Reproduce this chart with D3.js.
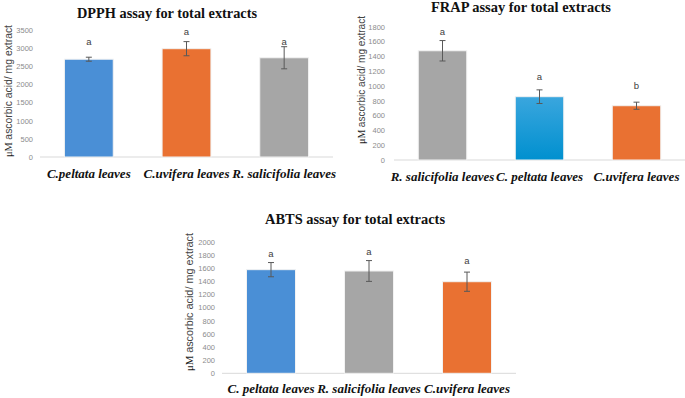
<!DOCTYPE html>
<html>
<head>
<meta charset="utf-8">
<script src="https://cdn.jsdelivr.net/npm/d3@7"></script>
<style>
  body { margin: 0; background: #fff; }
  svg { display: block; }
</style>
</head>
<body>
<div id="chart"></div>
<script>
const width = 685;
const height = 398;

// DPPH
const dpphCats = ["C.peltata leaves", "C.uvifera leaves", "R. salicifolia leaves"];
const dpphVals = [2695, 2985, 2735];
const dpphErr = [55, 195, 305];
const dpphSig = ["a", "a", "a"];
const dpphSigAt = [3090, 3360, 3090];
const dpphColors = ["blue", "orange", "gray"];
const dpphTicks = [0, 500, 1000, 1500, 2000, 2500, 3000, 3500];

// FRAP
const frapCats = ["R. salicifolia leaves", "C. peltata leaves", "C.uvifera leaves"];
const frapVals = [1475, 855, 733];
const frapErr = [138, 92, 48];
const frapSig = ["a", "a", "b"];
const frapSigAt = [1690, 1080, 965];
const frapColors = ["gray", "grad", "orange"];
const frapTicks = [0, 200, 400, 600, 800, 1000, 1200, 1400, 1600, 1800];

// ABTS
const abtsCats = ["C. peltata leaves", "R. salicifolia leaves", "C.uvifera leaves"];
const abtsVals = [1575, 1555, 1392];
const abtsErr = [108, 158, 146];
const abtsSig = ["a", "a", "a"];
const abtsSigAt = [1766, 1797, 1667];
const abtsColors = ["blue", "gray", "orange"];
const abtsTicks = [0, 200, 400, 600, 800, 1000, 1200, 1400, 1600, 1800, 2000];

const fills = {
  blue: "#4a8fd6",
  orange: "#e97132",
  gray: "#a6a6a6",
  grad: "url(#blueGrad)"
};

const svg = d3.select("#chart")
  .append("svg")
  .attr("width", width)
  .attr("height", height);

const grad = svg.append("defs").append("linearGradient")
  .attr("id", "blueGrad")
  .attr("x1", 0).attr("y1", 0).attr("x2", 0).attr("y2", 1);
grad.append("stop").attr("offset", "0%").attr("stop-color", "#3aa6de");
grad.append("stop").attr("offset", "100%").attr("stop-color", "#0090cf");

function drawPanel(p) {
  const g = svg.append("g");

  const x = d3.scaleBand()
    .domain(p.cats)
    .range([p.x0, p.x1])
    .paddingInner(0.5)
    .paddingOuter(0.25);

  const y = d3.scaleLinear()
    .domain([0, p.ticks[p.ticks.length - 1]])
    .range([p.y0, p.y1]);

  // title
  g.append("text")
    .attr("x", p.titleX)
    .attr("y", p.titleY)
    .attr("text-anchor", "middle")
    .attr("font-family", "Liberation Serif, Times New Roman, serif")
    .attr("font-weight", "bold")
    .attr("font-size", 14.5)
    .attr("fill", "#111")
    .attr("textLength", 180)
    .attr("lengthAdjust", "spacingAndGlyphs")
    .text(p.title);

  // y axis tick labels (no line)
  const yAxis = g.append("g")
    .attr("transform", `translate(${p.x0},0)`)
    .call(d3.axisLeft(y).tickValues(p.ticks).tickSize(0).tickPadding(p.tickPad).tickFormat(d3.format("d")));
  yAxis.select(".domain").remove();
  yAxis.selectAll("text")
    .attr("font-family", "Liberation Sans Narrow, Liberation Sans, Arial, sans-serif")
    .attr("font-size", 7.5)
    .attr("fill", "#8c8c8c");

  // baseline
  g.append("line")
    .attr("x1", p.x0).attr("x2", p.x1)
    .attr("y1", y(0)).attr("y2", y(0))
    .attr("stroke", "#d9d9d9")
    .attr("stroke-width", 1);

  // bars
  g.selectAll("rect.bar")
    .data(p.cats)
    .enter()
    .append("rect")
    .attr("class", "bar")
    .attr("x", d => x(d))
    .attr("width", x.bandwidth())
    .attr("y", (d, i) => y(p.vals[i]))
    .attr("height", (d, i) => y(0) - y(p.vals[i]))
    .attr("fill", (d, i) => fills[p.colors[i]])
    .attr("stroke", "#f2f2f2")
    .attr("stroke-width", 1);

  // error bars
  const eb = g.selectAll("g.err")
    .data(p.cats)
    .enter()
    .append("g")
    .attr("stroke", "#595959")
    .attr("stroke-width", 1);
  eb.append("line")
    .attr("x1", d => x(d) + x.bandwidth() / 2)
    .attr("x2", d => x(d) + x.bandwidth() / 2)
    .attr("y1", (d, i) => y(p.vals[i] + p.err[i]))
    .attr("y2", (d, i) => y(p.vals[i] - p.err[i]));
  [1, -1].forEach(s => {
    eb.append("line")
      .attr("x1", d => x(d) + x.bandwidth() / 2 - 3)
      .attr("x2", d => x(d) + x.bandwidth() / 2 + 3)
      .attr("y1", (d, i) => y(p.vals[i] + s * p.err[i]))
      .attr("y2", (d, i) => y(p.vals[i] + s * p.err[i]));
  });

  // significance letters
  g.selectAll("text.sig")
    .data(p.cats)
    .enter()
    .append("text")
    .attr("x", d => x(d) + x.bandwidth() / 2)
    .attr("y", (d, i) => y(p.sigAt[i]))
    .attr("text-anchor", "middle")
    .attr("font-family", "Liberation Sans, Arial, sans-serif")
    .attr("font-size", 9.5)
    .attr("fill", "#404040")
    .text((d, i) => p.sig[i]);

  // category labels
  g.selectAll("text.cat")
    .data(p.cats)
    .enter()
    .append("text")
    .attr("x", d => x(d) + x.bandwidth() / 2)
    .attr("y", p.catY)
    .attr("text-anchor", "middle")
    .attr("font-family", "Liberation Serif, Times New Roman, serif")
    .attr("font-weight", "bold")
    .attr("font-style", "italic")
    .attr("font-size", 13)
    .attr("fill", "#111")
    .text(d => d);

  // y axis title
  const yt = g.append("text")
    .attr("transform", `translate(${p.labX},${p.labY}) rotate(-90)`)
    .attr("text-anchor", "middle")
    .attr("font-size", 10.5)
    .attr("textLength", p.labLen)
    .attr("lengthAdjust", "spacingAndGlyphs")
    .attr("fill", "#222");
  yt.append("tspan")
    .attr("font-family", "Liberation Serif, Times New Roman, serif")
    .text("μM ");
  yt.append("tspan")
    .attr("font-family", "Liberation Sans Narrow, Liberation Sans, Arial, sans-serif")
    .attr("fill", "#444")
    .text("ascorbic acid/ mg extract");
}

drawPanel({
  title: "DPPH assay for total extracts", titleX: 167, titleY: 18,
  cats: dpphCats, vals: dpphVals, err: dpphErr, sig: dpphSig, sigAt: dpphSigAt, colors: dpphColors, ticks: dpphTicks,
  x0: 40, x1: 333, y0: 157, y1: 30, tickPad: 7, catY: 178, labX: 12, labY: 91, labLen: 132
});

drawPanel({
  title: "FRAP assay for total extracts", titleX: 521, titleY: 12,
  cats: frapCats, vals: frapVals, err: frapErr, sig: frapSig, sigAt: frapSigAt, colors: frapColors, ticks: frapTicks,
  x0: 394, x1: 685, y0: 160, y1: 26.7, tickPad: 9, catY: 181, labX: 365, labY: 80, labLen: 128
});

drawPanel({
  title: "ABTS assay for total extracts", titleX: 355, titleY: 224,
  cats: abtsCats, vals: abtsVals, err: abtsErr, sig: abtsSig, sigAt: abtsSigAt, colors: abtsColors, ticks: abtsTicks,
  x0: 222, x1: 516, y0: 373.3, y1: 241.7, tickPad: 7, catY: 393, labX: 193, labY: 302, labLen: 138
});
</script>
</body>
</html>
